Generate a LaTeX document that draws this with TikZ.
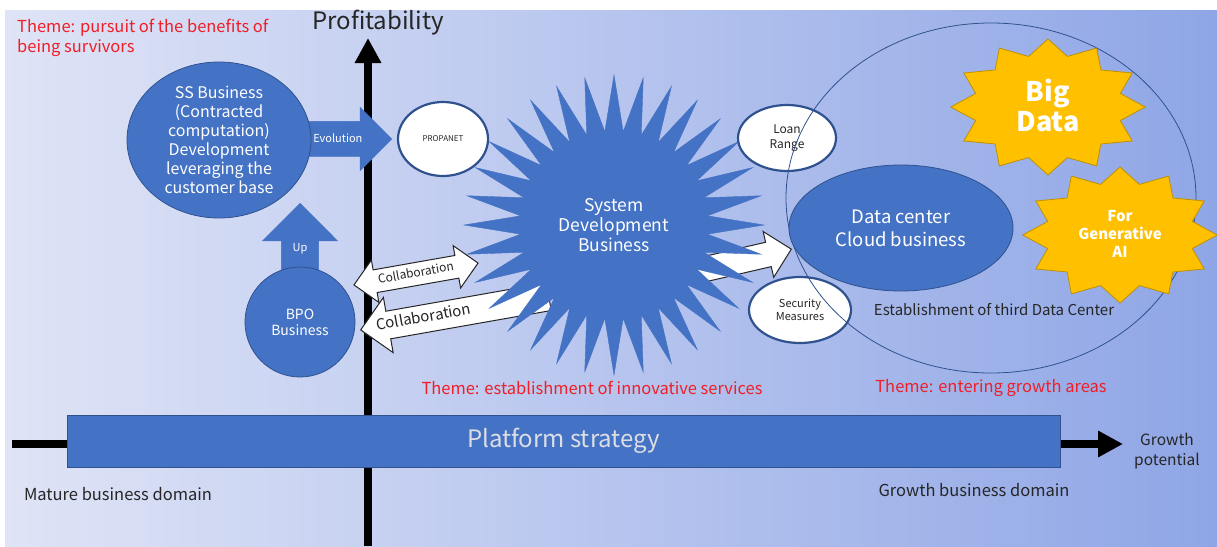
\documentclass[tikz,border=0pt]{standalone}
\usepackage{fontspec}
\setmainfont{Noto Sans CJK JP}
\usepackage{tikz}
\usetikzlibrary{shapes.geometric, shapes.arrows, arrows.meta, positioning}
\definecolor{bizblue}{RGB}{68,114,196}
\definecolor{bizedge}{RGB}{47,82,143}
\definecolor{bizgold}{RGB}{255,192,0}
\definecolor{goldedge}{RGB}{191,144,0}
\definecolor{themered}{RGB}{240,30,38}
\definecolor{inkdark}{RGB}{38,38,38}
\definecolor{bgleft}{RGB}{223,228,246}
\definecolor{bgright}{RGB}{143,166,230}
\definecolor{platgray}{RGB}{220,222,228}
\newcommand{\fsz}[2]{\fontsize{#1}{#2}\selectfont}
\tikzset{
  bizoval/.style={ellipse, draw=bizedge, fill=bizblue, text=white,
    align=center, inner sep=0pt, line width=0.8pt},
  whiteoval/.style={ellipse, draw=bizedge, fill=white, text=inkdark,
    align=center, inner sep=0pt, line width=2.2pt},
  goldstar/.style={star, star points=12, star point ratio=1.3,
    draw=goldedge, fill=bizgold, line width=0.8pt,
    minimum size=136pt, xscale=1.43},
  startext/.style={text=white, align=center, inner sep=0pt},
  bluearrow/.style={single arrow, draw=bizblue, fill=bizblue, text=white,
    font=\fsz{11}{13}, text height=8pt, text depth=2pt},
  whitearrow/.style={draw=inkdark, fill=white, text=inkdark, line width=1pt},
  theme/.style={text=themered, font=\fsz{16.5}{20}, align=left, inner sep=0pt},
  domaintext/.style={text=inkdark, font=\fsz{16.5}{20}, align=center, inner sep=0pt},
  axis/.style={line width=8pt, -{Triangle[width=25pt,length=25pt]}}
}
\begin{document}
\begin{tikzpicture}[x=1pt, y=-1pt]
  \useasboundingbox (0,0) rectangle (1217,546);
  % backdrop
  \fill[left color=bgleft, right color=bgright] (5,10) rectangle (1217,546);

  % Axes
  \coordinate (ybase) at (368,546);
  \coordinate (ytip) at (368,38);
  \coordinate (xbase) at (12,444);
  \coordinate (xtip) at (1123,444);
  \draw[axis] (ybase) -- (ytip);
  \draw[axis] (xbase) -- (xtip);
  \node[font=\fsz{24}{28}, text=inkdark, inner sep=0pt] (profit) at (378,23) {Profitability};
  \node[domaintext, font=\fsz{15.5}{20}] (growthpot) at (1167,451) {Growth\\potential};

  % Platform band
  \node[rectangle, draw=bizedge, fill=bizblue, minimum width=993pt, minimum height=52pt,
    font=\fsz{24}{28}, text=platgray] (platform) at (563.5,441) {Platform strategy};

  % Mature side
  \node[bluearrow, minimum height=90pt, single arrow head extend=14pt,
    inner xsep=2pt, inner ysep=12.5pt, anchor=tip] (evol) at (392,139) {Evolution};
  \node[bluearrow, shape border rotate=90, minimum height=72pt, single arrow head extend=19pt,
    inner xsep=11pt, inner ysep=2pt, anchor=tip] (up) at (300,203) {Up};
  \node[bizoval, minimum width=184pt, minimum height=156pt, font=\fsz{16}{19}] (ssbiz) at (219,140)
    {SS Business\\(Contracted\\computation)\\Development\\leveraging the\\customer base};
  \node[bizoval, minimum size=110pt, font=\fsz{14}{16}] (bpo) at (300,322) {BPO\\Business};

  % Arrows behind the star
  \node[whitearrow, single arrow, shape border rotate=180, single arrow head extend=14pt,
    text width=172pt, align=left, inner xsep=2pt, inner ysep=6pt, text height=11pt, text depth=4pt,
    font=\fsz{15}{18}, rotate=10, anchor=tip] (collabB) at (360,330) {Collaboration};
  \node[whitearrow, single arrow, single arrow head extend=11pt, minimum height=100pt,
    inner xsep=0pt, inner ysep=12pt, rotate=13, anchor=tip] (todc) at (792,249) {};

  % System development star
  \node[star, star points=32, star point ratio=1.6, fill=bizblue, draw=bizblue,
    minimum size=300pt, text=white, font=\fsz{17.5}{20}, align=center] (sysdev) at (614,225)
    {System\\Development\\Business};

  \node[whitearrow, double arrow, double arrow head extend=10pt, minimum height=126pt,
    inner xsep=3pt, inner ysep=5pt, text height=9pt, text depth=3pt,
    font=\fsz{12}{14}, rotate=10] (collabA) at (416,274) {Collaboration};

  % Satellites
  \node[whiteoval, minimum width=90pt, minimum height=74pt, font=\fsz{8}{10}] (propanet) at (443,139) {PROPANET};
  \node[whiteoval, minimum width=98pt, minimum height=66pt, font=\fsz{12}{15}] (loan) at (787,138) {Loan\\Range};
  \node[whiteoval, minimum width=102pt, minimum height=66pt, font=\fsz{11}{13}] (security) at (800,310) {Security\\Measures};

  % Growth side
  \node[ellipse, draw=bizedge, line width=0.8pt, minimum width=410pt, minimum height=350pt] (growthzone) at (991,198) {};
  \node[bizoval, minimum width=224pt, minimum height=126pt, font=\fsz{18.5}{23}] (datacenter) at (901,228)
    {Data center\\Cloud business};
  \node[text=inkdark, font=\fsz{15}{18}, inner sep=0pt] (thirddc) at (994,310) {Establishment of third Data Center};
  \node[goldstar] (bigdatastar) at (1048,107) {};
  \node[startext, font=\bfseries\fsz{27}{30}] (bigdata) at (1048,105) {Big\\Data};
  \node[goldstar] (genaistar) at (1120,235) {};
  \node[startext, font=\bfseries\fsz{15}{18}] (genai) at (1120,234) {For\\Generative\\AI};

  % Themes and domains
  \node[theme, anchor=north west] (themesurvive) at (17,19) {Theme: pursuit of the benefits of\\being survivors};
  \node[theme] (themeinnov) at (592,388) {Theme: establishment of innovative services};
  \node[theme] (themegrowth) at (991,388) {Theme: entering growth areas};
  \node[domaintext] (mature) at (118,494) {Mature business domain};
  \node[domaintext] (growthdom) at (974,490) {Growth business domain};
\end{tikzpicture}
\end{document}
